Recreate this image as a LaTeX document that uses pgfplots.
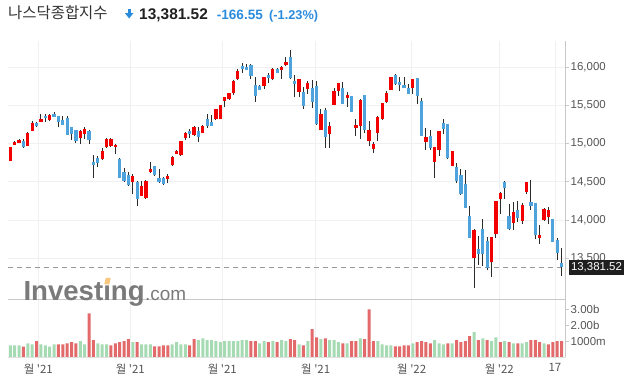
\documentclass[border=0pt]{standalone}
\usepackage{pgfplots}
\pgfplotsset{compat=1.18}
\usepackage{pgfplotstable}
\usepackage{fontspec}
\setmainfont{Liberation Sans}
\newfontfamily\kr{Noto Sans CJK KR}
\definecolor{cup}{HTML}{F20000}
\definecolor{cdown}{HTML}{4FA3DC}
\definecolor{wick}{HTML}{2B2B2B}
\definecolor{vgreen}{HTML}{A6DAB3}
\definecolor{vred}{HTML}{E26A6A}
\definecolor{gridc}{HTML}{F0F0F0}
\definecolor{axc}{HTML}{C8C8C8}
\definecolor{tickc}{HTML}{555555}
\definecolor{tblue}{HTML}{2A8BDD}
\definecolor{logoc}{HTML}{7A7A7A}
\definecolor{logoorange}{HTML}{F8C67C}

% up (red) candles: index open high low close
\pgfplotstableread{
i o h l c
1 14778 14961 14774 14953
2 14987 15040 14979 15022
3 15014 15057 15009 15044
5 14974 15149 14970 15140
6 15171 15297 15166 15267
8 15288 15384 15284 15323
10 15315 15389 15293 15376
17 15079 15175 14992 15166
18 15131 15219 15062 15192
22 14804 14948 14787 14905
23 14957 15070 14939 15062
24 14970 15070 14957 15057
25 14957 15001 14870 14987
29 14503 14608 14337 14573
31 14320 14512 14316 14451
32 14289 14525 14276 14516
33 14630 14756 14621 14669
37 14542 14599 14481 14577
38 14726 14839 14713 14826
39 14870 14918 14865 14909
40 14848 15040 14844 15035
41 15075 15149 15053 15136
43 15114 15232 15101 15219
45 15145 15245 15140 15232
48 15319 15454 15315 15450
49 15328 15507 15323 15507
50 15563 15616 15476 15607
51 15581 15668 15576 15668
52 15668 15838 15638 15825
53 15851 15973 15838 15956
59 15760 15878 15712 15873
61 15851 15991 15830 15978
63 15965 16017 15851 16004
64 16030 16131 16021 16069
67 15681 15851 15607 15847
69 15716 15825 15651 15795
72 15184 15450 15175 15389
74 15123 15280 14939 15232
75 15507 15725 15502 15690
76 15690 15799 15629 15790
78 15598 15681 15485 15638
80 15210 15323 15105 15245
81 15236 15585 15066 15572
83 15040 15297 14966 15179
84 14935 15018 14874 14996
85 15145 15358 15031 15350
86 15328 15537 15315 15533
87 15550 15694 15537 15659
88 15707 15878 15703 15873
93 15729 15851 15655 15847
96 15027 15201 14922 15088
98 14765 14961 14547 14957
99 14922 15171 14844 15166
102 14713 14905 14704 14905
107 13500 13884 13107 13866
111 13447 13779 13251 13775
112 13823 14254 13770 14250
113 14281 14372 14084 14355
116 13966 14237 13866 14102
118 13993 14228 13945 14198
119 14372 14503 14337 14499
122 13770 13932 13683 13810
123 14006 14154 13993 14145
124 14045 14167 13945 14132
}\tblUp

% down (blue) candles
\pgfplotstableread{
i o h l c
4 15035 15057 14948 14953
7 15271 15288 15214 15232
9 15367 15389 15288 15332
11 15389 15415 15350 15354
12 15363 15367 15214 15288
13 15306 15358 15245 15249
14 15337 15363 15114 15118
15 15214 15219 15044 15123
16 15179 15184 15014 15040
19 15166 15175 15001 15053
20 14765 14852 14547 14726
21 14813 14839 14699 14752
26 14804 14817 14547 14556
27 14634 14678 14503 14516
28 14590 14634 14451 14460
30 14503 14512 14189 14272
34 14708 14713 14582 14586
35 14551 14665 14490 14494
36 14556 14564 14455 14477
42 15171 15197 15079 15131
44 15171 15219 15027 15092
46 15323 15384 15210 15236
47 15284 15376 15232 15236
54 16021 16052 15925 15982
55 16004 16039 15965 15969
56 16030 16039 15843 15891
57 15764 15869 15550 15629
58 15755 15768 15703 15707
60 15904 15925 15790 15860
62 15978 15987 15921 15930
65 16135 16227 15851 15864
66 15825 15899 15607 15786
68 15677 15738 15459 15494
70 15729 15830 15463 15550
71 15755 15821 15249 15258
73 15441 15463 14939 15092
77 15729 15808 15515 15520
79 15624 15629 15415 15419
82 15638 15638 15136 15184
89 15899 15917 15768 15786
90 15808 15869 15686 15773
91 15768 15869 15729 15734
92 15729 15786 15651 15655
94 15860 15864 15524 15629
95 15559 15598 15101 15105
97 15101 15175 14922 14948
100 15267 15323 15123 15192
101 15258 15262 14795 14809
103 14695 14743 14490 14516
104 14590 14665 14333 14346
105 14473 14652 14154 14159
106 14049 14180 13766 13770
108 13622 13788 13412 13552
109 13884 14015 13404 13552
110 13722 13779 13343 13369
114 14503 14512 14276 14420
115 14049 14206 13866 13888
117 14132 14250 13980 14023
120 14237 14521 14128 14189
121 14224 14228 13748 13801
125 14015 14019 13709 13718
126 13740 13762 13478 13565
127 13434 13631 13268 13381.52
}\tblDown

% volume (billions), green bars
\pgfplotstableread{
i v
1 0.74
2 0.74
3 0.74
5 0.87
6 0.81
8 0.81
9 0.74
10 0.66
11 0.81
17 1.01
18 0.81
21 0.87
22 0.81
23 0.81
29 0.95
31 0.81
32 0.81
33 0.81
38 0.81
39 0.95
40 0.81
41 0.81
44 1.08
45 1.18
46 1.08
47 1.08
48 1.01
49 0.95
50 1.01
51 1.01
52 1.01
53 1.01
54 1.08
55 1.08
58 0.87
59 1.01
61 1.01
63 1.08
64 1.01
67 0.81
69 1.01
72 1.14
74 1.08
75 1.08
76 0.95
78 0.87
81 1.18
85 1.01
86 0.81
87 0.74
88 0.74
93 0.87
98 1.08
99 0.87
100 0.81
102 0.87
107 1.58
109 1.18
111 1.01
112 1.24
114 1.01
116 0.87
118 0.87
119 0.95
123 0.87
}\tblVG

% volume, red bars
\pgfplotstableread{
i v
4 0.66
7 1.01
12 0.81
13 0.81
14 0.87
15 0.95
16 0.87
19 2.74
20 1.08
24 0.74
25 0.87
26 0.95
27 1.01
28 1.14
30 0.95
34 0.68
35 0.68
36 0.74
37 0.74
42 0.74
43 1.14
56 1.01
57 1.01
60 0.95
62 0.95
65 1.14
66 1.08
68 0.74
70 1.76
71 1.24
73 1.18
77 0.87
79 1.01
80 1.01
82 1.14
83 2.99
84 1.01
89 0.68
90 0.68
91 0.74
92 0.74
94 0.95
95 1.01
96 0.95
97 0.87
101 0.87
103 1.08
104 0.95
105 1.01
106 1.33
108 1.08
110 1.08
113 0.95
115 0.95
117 0.87
120 1.08
121 1.08
122 0.95
124 0.81
125 0.95
126 1.01
127 1.01
}\tblVR

\begin{document}
\begin{tikzpicture}
\useasboundingbox (0bp,0bp) rectangle (631bp,-383bp);

% ---------- price panel ----------
\begin{axis}[
  at={(8bp,-41bp)}, anchor=north west, scale only axis,
  width=557.7bp, height=258.3bp,
  xmin=0.474, xmax=127.95, ymin=12963, ymax=16344,
  axis line style={draw=none}, clip=false,
  scaled y ticks=false, scaled x ticks=false,
  xtick={7.4,28.43,49.46,70.8,92.75,112.77,125.5}, xticklabels={},
  xmajorgrids, ymajorgrids,
  grid style={draw=gridc, line width=0.8bp},
  ytick={13500,14000,14500,15000,15500,16000},
  yticklabels={{13,500},{14,000},{14,500},{15,000},{15,500},{16,000}},
  ytick pos=right, yticklabel pos=right, tick align=outside,
  major tick length=3bp,
  major y tick style={draw=axc, line width=0.8bp},
  major x tick style={draw=none},
  yticklabel style={font=\fontsize{11.5}{13}\selectfont, text=tickc, xshift=-1.5bp},
]
% last price dashed line
\addplot[forget plot, color=black!40, line width=1.3bp, dash pattern=on 4.5bp off 4.5bp]
  coordinates {(0.474,13381.52) (127.95,13381.52)};
% wicks
\addplot[forget plot, draw=none, mark=none,
  error bars/.cd, y dir=plus, y explicit, error mark=none,
  error bar style={draw=wick, color=wick, line width=1bp}]
  table[x=i, y=l, y error plus expr=\thisrow{h}-\thisrow{l}] {\tblUp};
\addplot[forget plot, draw=none, mark=none,
  error bars/.cd, y dir=plus, y explicit, error mark=none,
  error bar style={draw=wick, color=wick, line width=1bp}]
  table[x=i, y=l, y error plus expr=\thisrow{h}-\thisrow{l}] {\tblDown};
% bodies
\addplot[forget plot, draw=none, mark=none,
  error bars/.cd, y dir=plus, y explicit, error mark=none,
  error bar style={draw=cup, color=cup, line width=3.2bp}]
  table[x=i, y=o, y error plus expr=\thisrow{c}-\thisrow{o}] {\tblUp};
\addplot[forget plot, draw=none, mark=none,
  error bars/.cd, y dir=plus, y explicit, error mark=none,
  error bar style={draw=cdown, color=cdown, line width=3.2bp}]
  table[x=i, y=c, y error plus expr=\thisrow{o}-\thisrow{c}] {\tblDown};
% last price label
\node[fill=black!88, text=white, anchor=west, inner xsep=2.5bp, inner ysep=0pt,
  minimum height=15bp, font=\fontsize{11.5}{13}\selectfont, xshift=2.6bp]
  at (axis cs:127.95,13381.52) {13,381.52};
\end{axis}

% ---------- volume panel ----------
\begin{axis}[
  at={(8bp,-299.3bp)}, anchor=north west, scale only axis,
  width=557.7bp, height=58bp,
  xmin=0.474, xmax=127.95, ymin=0, ymax=3.625,
  axis line style={draw=none}, clip=false,
  scaled y ticks=false, scaled x ticks=false,
  xtick={7.4,28.43,49.46,70.8,92.75,112.77,125.5},
  xticklabels={{월 \textquotesingle21},{월 \textquotesingle21},{월 \textquotesingle21},{월 \textquotesingle21},{월 \textquotesingle22},{월 \textquotesingle22},{17}},
  xmajorgrids,
  grid style={draw=gridc, line width=0.8bp},
  ytick={1,2,3}, yticklabels={1000m,2.00b,3.00b},
  ytick pos=right, yticklabel pos=right, tick align=outside,
  major tick length=3bp,
  major y tick style={draw=axc, line width=0.8bp},
  major x tick style={draw=gridc, line width=0.8bp},
  yticklabel style={font=\fontsize{11.5}{13}\selectfont, text=tickc, xshift=-1.5bp},
  xticklabel style={font=\kr\fontsize{11.5}{13}\selectfont, text=tickc},
]
\addplot[forget plot, ybar, bar width=3bp, bar shift=0pt, fill=vgreen, draw=none]
  table[x=i, y=v] {\tblVG};
\addplot[forget plot, ybar, bar width=3bp, bar shift=0pt, fill=vred, draw=none]
  table[x=i, y=v] {\tblVR};
\end{axis}

% frame lines
\draw[axc, line width=1bp] (8bp,-299.3bp) -- (565.7bp,-299.3bp);
\draw[black!12, line width=0.8bp] (8bp,-357.3bp) -- (565.7bp,-357.3bp);
\draw[axc, line width=0.9bp] (565.7bp,-41bp) -- (565.7bp,-357.3bp);

% logo
\node[anchor=base west, inner sep=0pt, text=logoc, font=\bfseries\fontsize{27.7}{30}\selectfont]
  (inv) at (23.3bp,-300bp) {Investing};
\node[anchor=base west, inner sep=0pt, text=logoc, font=\fontsize{19}{22}\selectfont]
  at (inv.base east) {.com};
\fill[logoorange] (104.3bp,-284.3bp) -- (109.3bp,-284.3bp) -- (110.8bp,-277.8bp) -- (105.8bp,-277.8bp) -- cycle;

% title
\node[anchor=base west, inner sep=0pt, text=black!80, font=\kr\fontsize{15.5}{18}\selectfont]
  at (8bp,-18.8bp) {나스닥종합지수};
\fill[tblue] (127.5bp,-9.3bp) rectangle (130.8bp,-13.5bp);
\fill[tblue] (125bp,-13.2bp) -- (133.3bp,-13.2bp) -- (129.15bp,-18.5bp) -- cycle;
\node[anchor=base west, inner sep=0pt, text=black!87, font=\bfseries\fontsize{15.5}{18}\selectfont]
  at (139bp,-19.3bp) {13,381.52};
\node[anchor=base west, inner sep=0pt, text=tblue, font=\bfseries\fontsize{13.6}{16}\selectfont]
  at (216.7bp,-19.3bp) {-166.55};
\node[anchor=base west, inner sep=0pt, text=tblue, font=\bfseries\fontsize{12.8}{16}\selectfont]
  at (269bp,-19.3bp) {(-1.23\%)};
\end{tikzpicture}
\end{document}
